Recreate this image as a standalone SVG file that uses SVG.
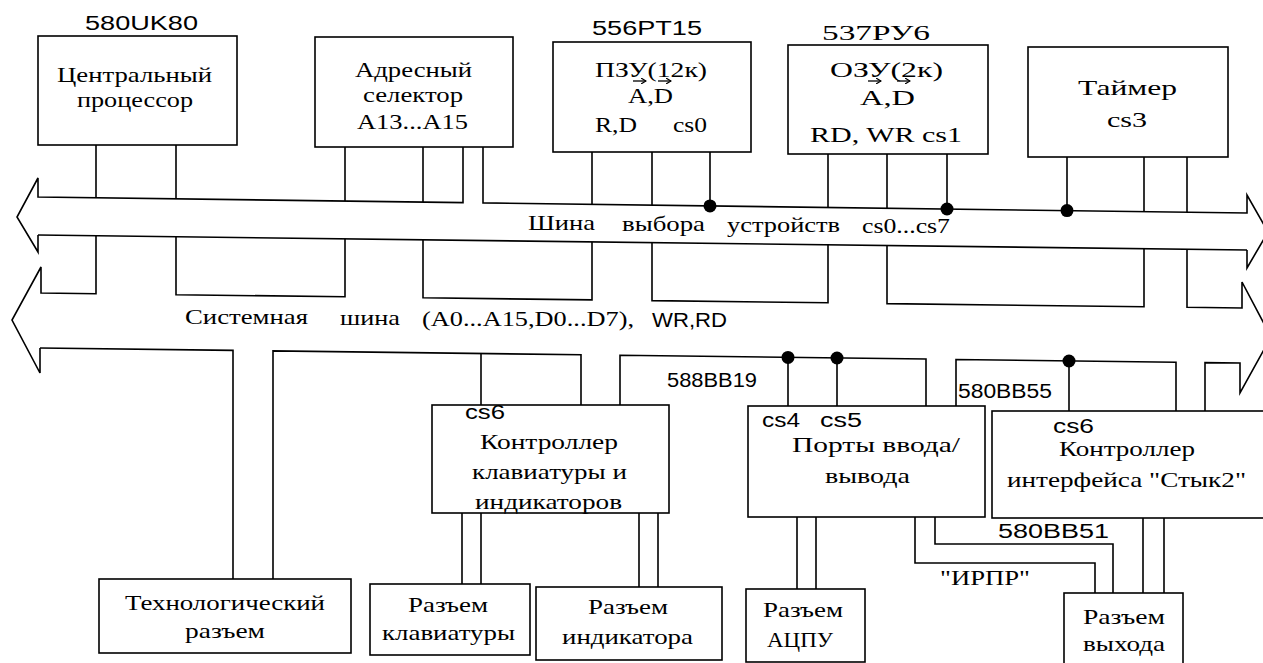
<svg xmlns="http://www.w3.org/2000/svg" width="1263" height="663" viewBox="0 0 1263 663">
<style>
.ln{stroke:#000;stroke-width:1.6;fill:none;stroke-linejoin:miter}
.box{fill:#fff;stroke:#000;stroke-width:1.6}
.dot{fill:#000}
.a{font-family:"Liberation Sans",Arial,sans-serif;font-size:20px;fill:#000}
.vec{stroke:#000;stroke-width:1.3;fill:none}
</style>
<defs>
<marker id="vh" markerWidth="6" markerHeight="6" refX="5" refY="3" orient="auto" markerUnits="userSpaceOnUse">
<path d="M0 0 L5 3 L0 6" fill="none" stroke="#000" stroke-width="1.2"/>
</marker>
</defs>
<rect width="1263" height="663" fill="#fff"/>

<g id="connectors" class="ln">
<path d="M38 235 L38 252 L17 217 L38 178 L38 197 L463 202.6 L463 147"/>
<path d="M483 147 L483 202.9 L1247 213 L1247 195 L1268 232 L1247 268 L1247 250"/>
<path d="M38 235 L1247 250"/>
<path d="M96 145 V197.8 M176 145 V198.8 M345 147 V201 M423 147 V202"/>
<path d="M592 152 V204.3 M652 152 V205.1 M710 152 V205.9"/>
<path d="M828 154 V207.4 M887 154 V208.2 M947 154 V209"/>
<path d="M1067 157 V210.6 M1144 157 V211.6 M1187 157 V212.2"/>
<path d="M40 348 L40 373 L12 320 L41 267 L41 293 L96 293.7 L96 235.7"/>
<path d="M176 236.7 L176 294.7 L345 296.8 L345 238.8"/>
<path d="M423 239.8 L423 297.8 L592 299.9 L592 241.9"/>
<path d="M652 242.6 L652 300.6 L828 302.8 L828 244.8"/>
<path d="M887 245.5 L887 303.6 L1144 306.8 L1144 248.7"/>
<path d="M1187 249.2 L1187 307.3 L1242 308 L1242 282 L1271 337 L1240 393 L1240 363 L1205 362.6 L1205 411"/>
<path d="M40 348 L233 350.4 L233 579"/>
<path d="M273 579 L273 350.9 L581 354.8 L581 405"/>
<path d="M481 353.5 V405"/>
<path d="M620 405 L620 355.3 L926 359 L926 406"/>
<path d="M788 357.4 V406 M837 358 V406"/>
<path d="M956 406 L956 359.5 L1176 362.2 L1176 411"/>
<path d="M1069 361 V411"/>
<path d="M462 513 V584 M481 513 V584"/>
<path d="M639 513 V587 M658 513 V587"/>
<path d="M797 517 V589 M816 517 V589"/>
<path d="M915 517 V563 H1095 V593"/>
<path d="M935 517 V544 H1113 V593"/>
<path d="M1143 518 V593 M1164 518 V593"/>
</g>
<g id="junctions" class="dot">
<circle cx="710" cy="205.9" r="6.5"/>
<circle cx="947" cy="209" r="6.5"/>
<circle cx="1067" cy="210.6" r="6.5"/>
<circle cx="788" cy="357.4" r="6.5"/>
<circle cx="837" cy="358" r="6.5"/>
<circle cx="1069" cy="361" r="6.5"/>
</g>

<g font-family="Liberation Serif, DejaVu Serif, serif" font-size="22" fill="#000">
<g id="bus-labels">
<text x="528" y="230" textLength="67" lengthAdjust="spacingAndGlyphs">Шина</text>
<text x="622" y="231" textLength="83" lengthAdjust="spacingAndGlyphs">выбора</text>
<text x="727" y="232" textLength="113" lengthAdjust="spacingAndGlyphs">устройств</text>
<text x="862" y="233" textLength="88" lengthAdjust="spacingAndGlyphs">cs0...cs7</text>
<text x="185" y="324" textLength="123" lengthAdjust="spacingAndGlyphs">Системная</text>
<text x="340" y="325" textLength="60" lengthAdjust="spacingAndGlyphs">шина</text>
<text x="422" y="326" textLength="212" lengthAdjust="spacingAndGlyphs">(A0...A15,D0...D7),</text>
<text class="a" x="652" y="327" textLength="75" lengthAdjust="spacingAndGlyphs">WR,RD</text>
</g>

<g id="cpu">
<rect class="box" x="38" y="36" width="199" height="109"/>
<text class="a" x="85" y="30" font-size="21" textLength="113" lengthAdjust="spacingAndGlyphs">580UK80</text>
<text x="57" y="82" textLength="155" lengthAdjust="spacingAndGlyphs">Центральный</text>
<text x="77" y="107" textLength="116" lengthAdjust="spacingAndGlyphs">процессор</text>
</g>

<g id="selector">
<rect class="box" x="315" y="37" width="198" height="110"/>
<text x="355" y="77" textLength="117" lengthAdjust="spacingAndGlyphs">Адресный</text>
<text x="363" y="102" textLength="100" lengthAdjust="spacingAndGlyphs">селектор</text>
<text x="357" y="129" textLength="111" lengthAdjust="spacingAndGlyphs">A13...A15</text>
</g>

<g id="rom">
<rect class="box" x="553" y="42" width="198" height="110"/>
<text class="a" x="592" y="35" textLength="110" lengthAdjust="spacingAndGlyphs">556PT15</text>
<text x="595" y="77" textLength="112" lengthAdjust="spacingAndGlyphs">ПЗУ(12к)</text>
<path class="vec" d="M633 81 H646" marker-end="url(#vh)"/>
<path class="vec" d="M658 81 H671" marker-end="url(#vh)"/>
<text x="628" y="103" textLength="45" lengthAdjust="spacingAndGlyphs">A,D</text>
<text x="595" y="132" textLength="42" lengthAdjust="spacingAndGlyphs">R,D</text>
<text x="673" y="132" textLength="34" lengthAdjust="spacingAndGlyphs">cs0</text>
</g>

<g id="ram">
<rect class="box" x="788" y="45" width="200" height="109"/>
<text x="822" y="40" font-size="20" textLength="108" lengthAdjust="spacingAndGlyphs">537РУ6</text>
<text x="830" y="77" textLength="113" lengthAdjust="spacingAndGlyphs">ОЗУ(2к)</text>
<path class="vec" d="M868 81 H881" marker-end="url(#vh)"/>
<path class="vec" d="M897 81 H910" marker-end="url(#vh)"/>
<text x="860" y="105" textLength="55" lengthAdjust="spacingAndGlyphs">A,D</text>
<text x="810" y="142" textLength="152" lengthAdjust="spacingAndGlyphs">RD, WR cs1</text>
</g>

<g id="timer">
<rect class="box" x="1028" y="47" width="200" height="110"/>
<text x="1078" y="95" textLength="99" lengthAdjust="spacingAndGlyphs">Таймер</text>
<text x="1107" y="127" textLength="40" lengthAdjust="spacingAndGlyphs">cs3</text>
</g>

<g id="kbd-ctrl">
<rect class="box" x="432" y="405" width="237" height="108"/>
<text class="a" x="465" y="419" font-size="19" textLength="40" lengthAdjust="spacingAndGlyphs">cs6</text>
<text x="480" y="449" textLength="138" lengthAdjust="spacingAndGlyphs">Контроллер</text>
<text x="472" y="479" textLength="155" lengthAdjust="spacingAndGlyphs">клавиатуры и</text>
<text x="475" y="509" textLength="147" lengthAdjust="spacingAndGlyphs">индикаторов</text>
</g>

<g id="ports">
<rect class="box" x="748" y="406" width="237" height="111"/>
<text class="a" x="667" y="387" font-size="18" textLength="90" lengthAdjust="spacingAndGlyphs">588BB19</text>
<text class="a" x="762" y="427" font-size="19" textLength="38" lengthAdjust="spacingAndGlyphs">cs4</text>
<text class="a" x="820" y="427" font-size="19" textLength="42" lengthAdjust="spacingAndGlyphs">cs5</text>
<text x="792" y="452" textLength="168" lengthAdjust="spacingAndGlyphs">Порты ввода/</text>
<text x="825" y="483" textLength="85" lengthAdjust="spacingAndGlyphs">вывода</text>
</g>

<g id="styk2-ctrl">
<rect class="box" x="992" y="411" width="290" height="107"/>
<text class="a" x="958" y="398" textLength="94" lengthAdjust="spacingAndGlyphs">580BB55</text>
<text class="a" x="1053" y="433" font-size="19" textLength="41" lengthAdjust="spacingAndGlyphs">cs6</text>
<text x="1059" y="456" textLength="136" lengthAdjust="spacingAndGlyphs">Контроллер</text>
<text x="1007" y="487" textLength="239" lengthAdjust="spacingAndGlyphs">интерфейса "Стык2"</text>
<text class="a" x="998" y="538" textLength="111" lengthAdjust="spacingAndGlyphs">580BB51</text>
<text x="940" y="585" textLength="90" lengthAdjust="spacingAndGlyphs">"ИРПР"</text>
</g>

<g id="tech-conn">
<rect class="box" x="99" y="579" width="252" height="74"/>
<text x="125" y="610" textLength="200" lengthAdjust="spacingAndGlyphs">Технологический</text>
<text x="185" y="638" textLength="80" lengthAdjust="spacingAndGlyphs">разъем</text>
</g>

<g id="kbd-conn">
<rect class="box" x="370" y="584" width="160" height="71"/>
<text x="408" y="612" textLength="80" lengthAdjust="spacingAndGlyphs">Разъем</text>
<text x="382" y="640" textLength="133" lengthAdjust="spacingAndGlyphs">клавиатуры</text>
</g>

<g id="ind-conn">
<rect class="box" x="536" y="587" width="186" height="73"/>
<text x="588" y="614" textLength="80" lengthAdjust="spacingAndGlyphs">Разъем</text>
<text x="562" y="644" textLength="131" lengthAdjust="spacingAndGlyphs">индикатора</text>
</g>

<g id="adc-conn">
<rect class="box" x="746" y="589" width="119" height="73"/>
<text x="763" y="617" textLength="80" lengthAdjust="spacingAndGlyphs">Разъем</text>
<text x="767" y="647" textLength="66" lengthAdjust="spacingAndGlyphs">АЦПУ</text>
</g>

<g id="out-conn">
<rect class="box" x="1064" y="593" width="119" height="76"/>
<text x="1083" y="624" textLength="82" lengthAdjust="spacingAndGlyphs">Разъем</text>
<text x="1083" y="651" textLength="82" lengthAdjust="spacingAndGlyphs">выхода</text>
</g>
</g>
</svg>
